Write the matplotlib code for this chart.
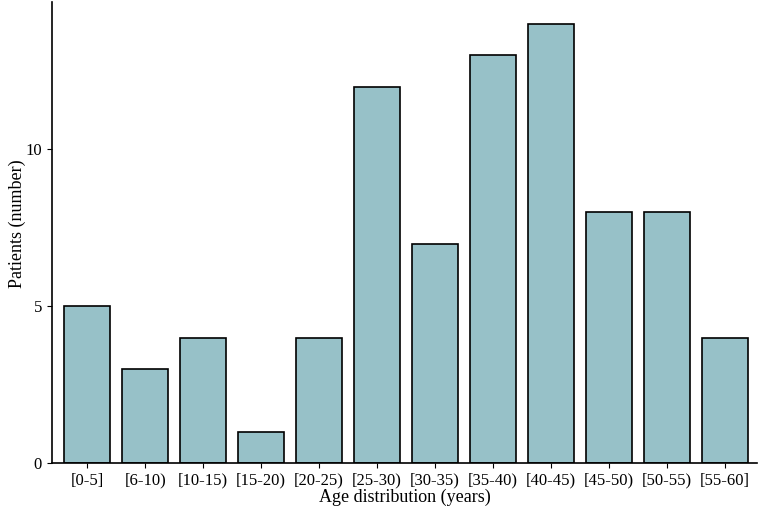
import matplotlib
matplotlib.use("Agg")
import matplotlib.pyplot as plt

categories = ["[0-5]", "[6-10)", "[10-15)", "[15-20)", "[20-25)", "[25-30)",
              "[30-35)", "[35-40)", "[40-45)", "[45-50)", "[50-55)", "[55-60]"]
patients = [5, 3, 4, 1, 4, 12, 7, 13, 14, 8, 8, 4]
yticks = [0, 5, 10]

plt.rcParams['font.family'] = ['Liberation Serif', 'DejaVu Serif']
fig = plt.figure(figsize=(7.62, 5.14), dpi=100)
ax = fig.add_axes([0.068, 0.099, 0.926, 0.897])
x = list(range(len(categories)))
ax.bar(x, patients, width=0.8, color="#97c1c8", edgecolor="black", linewidth=1.2)
ax.set_xticks(x)
ax.set_xticklabels(categories, fontsize=12)
ax.set_yticks(yticks)
ax.tick_params(axis='y', labelsize=12)
ax.set_xlim(-0.61, 11.56)
ax.set_ylim(0, 14.7)
ax.set_xlabel("Age distribution (years)", fontsize=13, labelpad=0)
ax.set_ylabel("Patients (number)", fontsize=13)
ax.yaxis.set_label_coords(-0.037, 0.52)
ax.spines['top'].set_visible(False)
ax.spines['right'].set_visible(False)
ax.spines['left'].set_linewidth(1.2)
ax.spines['bottom'].set_linewidth(1.2)
fig.savefig("out.png", dpi=100)
